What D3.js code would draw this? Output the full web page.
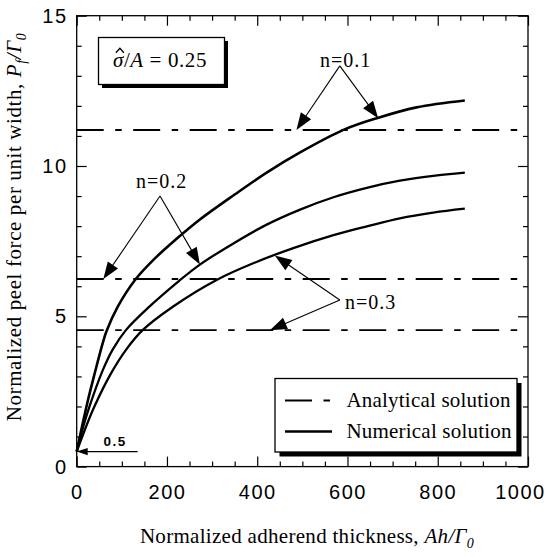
<!DOCTYPE html>
<html>
<head>
<meta charset="utf-8">
<script src="https://cdn.jsdelivr.net/npm/d3@7"></script>
<style>
  body { margin: 0; background: #fff; }
  svg { display: block; }
</style>
</head>
<body>
<svg id="chart" width="553" height="557"></svg>
<script>
// ---- data -------------------------------------------------------------
// Normalized adherend thickness Ah/Γ0 vs. normalized peel force Pf/Γ0
const xMajorTicks = [0, 200, 400, 600, 800, 1000];
const yMajorTicks = [0, 5, 10, 15];

// analytical (steady-state) peel force for each hardening exponent n
const hardeningN = ["0.1", "0.2", "0.3"];
const analyticalForce = [11.2, 6.24, 4.54];

// numerical solutions: [Ah/Γ0, Pf/Γ0]
const numericalN01 = [[0, 0.5], [12, 1.35], [24, 2.15], [39, 3.05], [57.5, 4.1], [66, 4.5],
  [91, 5.32], [131, 6.24], [175, 6.95], [220, 7.56], [273, 8.22], [350, 9.05], [421, 9.78],
  [495, 10.45], [591, 11.2], [665, 11.59], [753, 11.95], [860, 12.18]];
const numericalN02 = [[0, 0.5], [14, 1.3], [29.5, 2.05], [57.6, 3.2], [80, 3.9], [109, 4.54],
  [161, 5.32], [227, 6.18], [273, 6.72], [350, 7.45], [421, 8.05], [495, 8.55], [569, 8.96],
  [645, 9.28], [716, 9.51], [790, 9.67], [860, 9.78]];
const numericalN03 = [[0, 0.5], [20, 1.3], [39, 1.99], [76, 3.1], [110, 3.9], [146, 4.54],
  [213, 5.32], [310, 6.21], [397, 6.8], [480, 7.27], [569, 7.7], [645, 8.0], [716, 8.26],
  [790, 8.45], [860, 8.58]];

// callouts: label anchor and arrow tips, in data units
const calloutLabels = ["n=0.1", "n=0.2", "n=0.3"];
const calloutText = [[539, 13.3, "start"], [188, 9.28, "middle"], [594.5, 5.24, "start"]];
const calloutFrom = [[583, 13.33], [184.6, 9.0], [583, 5.54]];
const calloutTips = [
  [[487, 11.2], [668, 11.59]],
  [[59, 6.24], [273, 6.72]],
  [[439, 7.02], [428, 4.54]]
];
const initialForce = 0.5;

// ---- layout -----------------------------------------------------------
const svg = d3.select("#chart");
const x = d3.scaleLinear().domain([0, 1000]).range([76.7, 528]);
const y = d3.scaleLinear().domain([0, 15]).range([466.6, 15.7]);
const x0 = x.range()[0], x1 = x.range()[1], y0 = y.range()[0], y1 = y.range()[1];

const xMinor = d3.range(0, 1001, 50).filter(v => v % 200 !== 0);
const yMinor = d3.range(0, 16, 1).filter(v => v % 5 !== 0);

const tickFont = "'Liberation Sans', Arial, Helvetica, sans-serif";
const serif = "'Liberation Serif', 'Times New Roman', Times, serif";

// frame
svg.append("rect")
  .attr("x", x0).attr("y", y1).attr("width", x1 - x0).attr("height", y0 - y1)
  .attr("fill", "none").attr("stroke", "#000").attr("stroke-width", 1.3);

function styleAxis(g) {
  g.select(".domain").remove();
  g.selectAll(".tick line").attr("stroke", "#000").attr("stroke-width", 1.2);
  g.selectAll(".tick text")
    .attr("fill", "#000")
    .style("font-family", tickFont)
    .style("font-size", "20px")
    .style("letter-spacing", "1.5px");
}

// inward ticks on all four sides
svg.append("g").attr("transform", `translate(0,${y0})`)
  .call(d3.axisBottom(x).tickValues(xMinor).tickSize(-5).tickFormat("")).call(styleAxis);
const xAxis = svg.append("g").attr("transform", `translate(0,${y0})`)
  .call(d3.axisBottom(x).tickValues(xMajorTicks).tickSize(-10).tickPadding(18.2).tickFormat(d3.format("d")))
  .call(styleAxis);
xAxis.selectAll(".tick text").filter(d => d === 1000).attr("dx", -8);

svg.append("g").attr("transform", `translate(0,${y1})`)
  .call(d3.axisTop(x).tickValues(xMinor).tickSize(-5).tickFormat("")).call(styleAxis);
svg.append("g").attr("transform", `translate(0,${y1})`)
  .call(d3.axisTop(x).tickValues(xMajorTicks).tickSize(-10).tickFormat("")).call(styleAxis);

svg.append("g").attr("transform", `translate(${x0},0)`)
  .call(d3.axisLeft(y).tickValues(yMinor).tickSize(-5).tickFormat("")).call(styleAxis);
svg.append("g").attr("transform", `translate(${x0},0)`)
  .call(d3.axisLeft(y).tickValues(yMajorTicks).tickSize(-10).tickPadding(9.2).tickFormat(d3.format("d")))
  .call(styleAxis);

svg.append("g").attr("transform", `translate(${x1},0)`)
  .call(d3.axisRight(y).tickValues(yMinor).tickSize(-5).tickFormat("")).call(styleAxis);
svg.append("g").attr("transform", `translate(${x1},0)`)
  .call(d3.axisRight(y).tickValues(yMajorTicks).tickSize(-10).tickFormat("")).call(styleAxis);

// ---- analytical solutions (dash-dot) ----------------------------------
const dashDot = "27,11.5,6.5,11.5";
svg.append("g").selectAll("line").data(analyticalForce).join("line")
  .attr("x1", x(0)).attr("x2", x(1000))
  .attr("y1", d => y(d)).attr("y2", d => y(d))
  .attr("stroke", "#000").attr("stroke-width", 1.9)
  .attr("stroke-dasharray", dashDot);

// ---- numerical solutions ----------------------------------------------
const line = d3.line().x(d => x(d[0])).y(d => y(d[1])).curve(d3.curveCatmullRom.alpha(0.5));
svg.append("g").selectAll("path").data([numericalN01, numericalN02, numericalN03]).join("path")
  .attr("d", line)
  .attr("fill", "none").attr("stroke", "#000")
  .attr("stroke-width", (d, i) => i === 0 ? 2.6 : 2.3)
  .attr("stroke-linejoin", "round");

// ---- arrows -----------------------------------------------------------
function arrow(g, sx, sy, tx, ty, len, hw, width) {
  const dx = tx - sx, dy = ty - sy, L = Math.hypot(dx, dy);
  const ux = dx / L, uy = dy / L;
  const bx = tx - ux * len, by = ty - uy * len;
  g.append("line").attr("x1", sx).attr("y1", sy).attr("x2", bx + ux * 2).attr("y2", by + uy * 2)
    .attr("stroke", "#000").attr("stroke-width", width);
  g.append("path")
    .attr("d", `M${tx},${ty}L${bx - uy * hw},${by + ux * hw}L${bx + uy * hw},${by - ux * hw}Z`)
    .attr("fill", "#000");
}

const callouts = svg.append("g");
calloutLabels.forEach((label, i) => {
  const [tx, ty, anchor] = calloutText[i];
  callouts.append("text")
    .attr("x", x(tx)).attr("y", y(ty))
    .attr("text-anchor", anchor)
    .style("font-family", serif).style("font-size", "20px").style("letter-spacing", "1px")
    .text(label);
  const [fx, fy] = calloutFrom[i];
  calloutTips[i].forEach(([px, py]) => {
    arrow(callouts, x(fx), y(fy), x(px), y(py), 17, 6.2, 1.1);
  });
});

// initial value marker: 0.5 at zero thickness
arrow(callouts, x(135), y(initialForce), x(0), y(initialForce), 11, 3.6, 1.2);
callouts.append("text")
  .attr("x", x(85)).attr("y", y(initialForce) - 6)
  .attr("text-anchor", "middle")
  .style("font-family", tickFont).style("font-size", "13.5px").style("font-weight", "bold")
  .style("letter-spacing", "1.5px")
  .text(initialForce);

// ---- parameter box ----------------------------------------------------
const pbox = svg.append("g");
pbox.append("rect").attr("x", 102).attr("y", 41).attr("width", 126).attr("height", 47).attr("fill", "#000");
pbox.append("rect").attr("x", 98.5).attr("y", 37.5).attr("width", 126).attr("height", 47)
  .attr("fill", "#fff").attr("stroke", "#000").attr("stroke-width", 1.3);
const ptext = pbox.append("text")
  .attr("x", 160).attr("y", 66.7).attr("text-anchor", "middle")
  .style("font-family", serif).style("font-size", "21px").style("letter-spacing", "0.6px");
ptext.append("tspan").style("font-style", "italic").text("\u03C3");
ptext.append("tspan").text("/");
ptext.append("tspan").style("font-style", "italic").text("A");
ptext.append("tspan").text(" = 0.25");
// circumflex accent over the sigma, drawn as a small chevron
const sigmaBox = ptext.node().getExtentOfChar(0);
const hatX = sigmaBox.x + sigmaBox.width / 2 + 1.5;
pbox.append("path")
  .attr("d", `M${hatX - 4},${52.8}L${hatX},${48.3}L${hatX + 4},${52.8}`)
  .attr("fill", "none").attr("stroke", "#000").attr("stroke-width", 1.3)
  .attr("stroke-linejoin", "miter");

// ---- legend -----------------------------------------------------------
const legend = svg.append("g");
legend.append("rect").attr("x", 279.5).attr("y", 383).attr("width", 242).attr("height", 73.5).attr("fill", "#000");
legend.append("rect").attr("x", 275).attr("y", 378.5).attr("width", 242).attr("height", 73.5)
  .attr("fill", "#fff").attr("stroke", "#000").attr("stroke-width", 1.3);
const legendItems = ["Analytical solution", "Numerical solution"];
const legendDash = [dashDot, null];
const legendY = [400.5, 431.5];
legendItems.forEach((label, i) => {
  legend.append("line")
    .attr("x1", 285).attr("x2", 332).attr("y1", legendY[i]).attr("y2", legendY[i])
    .attr("stroke", "#000").attr("stroke-width", i === 0 ? 1.9 : 2.3)
    .attr("stroke-dasharray", legendDash[i]);
  legend.append("text")
    .attr("x", 346.5).attr("y", legendY[i] + 6.2)
    .style("font-family", serif).style("font-size", "21px").style("letter-spacing", "0.2px")
    .text(label);
});

// ---- axis titles ------------------------------------------------------
const xt = svg.append("text")
  .attr("x", 307).attr("y", 543.3).attr("text-anchor", "middle")
  .style("font-family", serif).style("font-size", "21px").style("letter-spacing", "0.3px");
xt.append("tspan").text("Normalized adherend thickness, ");
xt.append("tspan").style("font-style", "italic").text("Ah/\u0393");
xt.append("tspan").style("font-style", "italic").style("font-size", "14px").attr("dy", 5).text("0");

const yt = svg.append("text")
  .attr("transform", "translate(20.5,227) rotate(-90)")
  .attr("text-anchor", "middle")
  .style("font-family", serif).style("font-size", "21px").style("letter-spacing", "0.6px");
yt.append("tspan").text("Normalized peel force per unit width, ");
yt.append("tspan").style("font-style", "italic").text("P");
yt.append("tspan").style("font-style", "italic").style("font-size", "14px").attr("dy", 5).text("f");
yt.append("tspan").style("font-style", "italic").attr("dy", -5).text("/\u0393");
yt.append("tspan").style("font-style", "italic").style("font-size", "14px").attr("dy", 5).text("0");
</script>
</body>
</html>
